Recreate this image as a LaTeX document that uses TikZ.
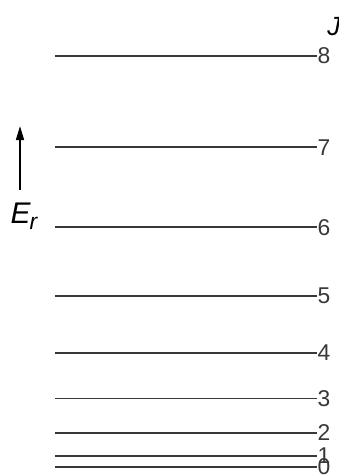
\documentclass[tikz,border=0pt]{standalone}
\usepackage{fontspec}
\setmainfont{Liberation Sans}
\usetikzlibrary{positioning,arrows.meta}
\definecolor{lvlGray}{HTML}{383838}

\begin{document}
\begin{tikzpicture}[font=\fontsize{13}{14}\selectfont,
  lvl/.style={draw=lvlGray, line width=1.1pt},
  jlab/.style={inner sep=0.5pt, anchor=west, text=lvlGray}]
\useasboundingbox (0,0) rectangle (6.78,9.52);
% rotational levels, E ~ J(J+1)
\foreach \J in {0,...,8}{
  \pgfmathsetmacro{\ylev}{0.18+0.1142*\J*(\J+1)}
  \coordinate (s\J) at (1.1,\ylev);
  \node[jlab] (n\J) at (6.33,\ylev) {\J};
  \draw[lvl] (s\J) -- (n\J.west);
}
\node (jhead) at (6.68,8.98) {\fontsize{15}{16}\selectfont\itshape J};
% energy axis
\node (er) at (0.48,5.2) {\fontsize{17}{18}\selectfont\itshape E\kern-0.5pt\raisebox{-0.4ex}{\fontsize{13}{14}\selectfont r}};
\coordinate (ebase) at (0.4,5.72);
\coordinate (etip) at (0.4,7.0);
\draw[-{Triangle[length=8pt,width=4.5pt]}, line width=1.1pt] (ebase) -- (etip);
\end{tikzpicture}
\end{document}
